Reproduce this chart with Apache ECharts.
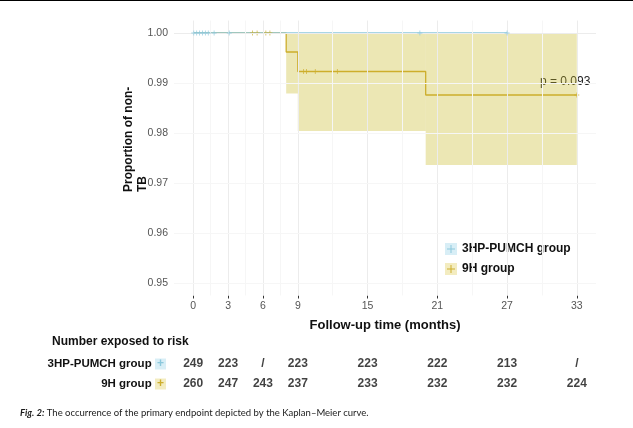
<!DOCTYPE html>
<html><head><meta charset="utf-8">
<script src="https://cdn.jsdelivr.net/npm/echarts@6/dist/echarts.min.js"></script>
<style>html,body{margin:0;padding:0;background:#fff}#c{width:633px;height:428px}</style>
</head><body><div id="c"></div>
<script>
// ---- data ----
const xTicks = [0, 3, 6, 9, 15, 21, 27, 33];
const xMinor = [1.5, 4.5, 7.5, 12, 18, 24, 30];
const yTicks = [0.95, 0.96, 0.97, 0.98, 0.99, 1.00];
const yMinor = [0.955, 0.965, 0.975, 0.985, 0.995];
const groupNames = ['3HP-PUMCH group', '9H group'];
// Kaplan-Meier steps [time, survival]
const kmA = [[0, 1.0], [27, 1.0]];
const kmB = [[0, 1.0], [8, 0.9962], [9, 0.9923], [20, 0.9876], [33, 0.9876]];
// censor marks [time, survival]
const censA = [[0.05,1],[0.3,1],[0.55,1],[0.8,1],[1.05,1],[1.3,1],[1.8,1],[3.1,1],[19.5,1],[27,1]];
const censB = [[5.1,1],[5.5,1],[6.25,1],[6.6,1],[9.5,0.9923],[9.75,0.9923],[10.5,0.9923],[12.4,0.9923],[33,0.9876]];
// confidence band segments for 9H [start, end, lower, upper]
const bandB = [[8, 9, 0.9879, 1.0], [9, 20, 0.9804, 1.0], [20, 33, 0.9736, 1.0]];
const riskA = ['249', '223', '/', '223', '223', '222', '213', '/'];
const riskB = ['260', '247', '243', '237', '233', '232', '232', '224'];
const pText = 'p = 0.093';

// ---- styles ----
const colA = '#8cc8dc', colB = '#cdae2c';
const font = 'Liberation Sans';
const plusPath = 'path://M-0.5,-3H0.5V3H-0.5Z M-3,-0.5H3V0.5H-3Z';
const legendPath = 'path://M-6,-6M6,6M-0.5,-4H0.5V4H-0.5Z M-4,-0.5H4V0.5H-4Z';
const X0 = -1.65, X1 = 34.65, Y0 = 0.9475, Y1 = 1.0025;

const chart = echarts.init(document.getElementById('c'), null, {renderer: 'canvas'});

const gridLines = [];
xTicks.forEach(v => gridLines.push({xAxis: v, lineStyle: {color: '#ececec', width: 1, type: 'solid'}}));
xMinor.forEach(v => gridLines.push({xAxis: v, lineStyle: {color: '#f6f6f6', width: 1, type: 'solid'}}));
yTicks.forEach(v => gridLines.push({yAxis: v, lineStyle: {color: '#ececec', width: 1, type: 'solid'}}));
yMinor.forEach(v => gridLines.push({yAxis: v, lineStyle: {color: '#f6f6f6', width: 1, type: 'solid'}}));

const riskData = [];
riskA.forEach((t, i) => riskData.push([xTicks[i], groupNames[0], t]));
riskB.forEach((t, i) => riskData.push([xTicks[i], groupNames[1], t]));

chart.setOption({
  animation: false,
  textStyle: {fontFamily: font},
  grid: [
    {left: 174, right: 37, top: 20.5, bottom: 132.5},
    {left: 174, right: 37, top: 354, height: 40}
  ],
  xAxis: [
    {type: 'value', gridIndex: 0, min: X0, max: X1,
     splitLine: {show: false},
     axisLine: {show: false},
     axisTick: {show: true, length: 3, customValues: xTicks, lineStyle: {color: '#333'}},
     axisLabel: {customValues: xTicks, color: '#555', fontSize: 10.5, margin: 5, fontFamily: font},
     name: 'Follow-up time (months)', nameLocation: 'middle', nameGap: 23,
     nameTextStyle: {fontWeight: 'bold', fontSize: 13, color: '#111', fontFamily: font}},
    {type: 'value', gridIndex: 1, min: X0, max: X1, show: false}
  ],
  yAxis: [
    {type: 'value', gridIndex: 0, min: Y0, max: Y1,
     splitLine: {show: false},
     axisLine: {show: false},
     axisTick: {show: true, length: 3, customValues: yTicks, lineStyle: {color: '#333'}},
     axisLabel: {customValues: yTicks, color: '#555', fontSize: 10.5, margin: 6, fontFamily: font,
       formatter: v => v.toFixed(2)}},
    {type: 'category', gridIndex: 1, data: groupNames, inverse: true,
     axisLine: {show: false}, axisTick: {show: false}, splitLine: {show: false},
     axisLabel: {margin: 8, fontFamily: font,
       formatter: (v, i) => '{n|' + v + '} ' + (i === 0 ? '{a|+}' : '{b|+}'),
       rich: {
         n: {fontWeight: 'bold', fontSize: 11.5, color: '#111', fontFamily: font},
         a: {backgroundColor: '#d8eef6', color: colA, width: 11, height: 11, align: 'center', fontSize: 12, fontWeight: 'bold', lineHeight: 11},
         b: {backgroundColor: '#f3ecc0', color: colB, width: 11, height: 11, align: 'center', fontSize: 12, fontWeight: 'bold', lineHeight: 11}
       }}}
  ],
  legend: {
    left: 445, top: 243, padding: 0, orient: 'vertical', itemWidth: 12, itemHeight: 12, itemGap: 8,
    textStyle: {fontWeight: 'bold', fontSize: 12, color: '#111', fontFamily: font, padding: [0, 0, 0, 0]},
    data: [
      {name: groupNames[0], icon: legendPath, itemStyle: {color: colA}},
      {name: groupNames[1], icon: legendPath, itemStyle: {color: colB}}
    ],
    selectedMode: false
  },
  title: {text: 'Number exposed to risk', left: 52, top: 336, padding: 0,
    textStyle: {fontWeight: 'bold', fontSize: 12, color: '#111', fontFamily: font}},
  graphic: [
    {type: 'rect', left: 0, top: 0, shape: {width: 633, height: 1}, style: {fill: '#000'}},
    {type: 'rect', left: 445, top: 243, z: -1, shape: {width: 12, height: 12}, style: {fill: '#d8eef6'}},
    {type: 'rect', left: 445, top: 263, z: -1, shape: {width: 12, height: 12}, style: {fill: '#f3ecc0'}},
    {type: 'text', x: 122, y: 192, rotation: Math.PI / 2,
     style: {text: 'Proportion of non-\nTB', font: 'bold 12px "Liberation Sans"', fill: '#111',
       textAlign: 'left', textVerticalAlign: 'top', lineHeight: 14}},
    {type: 'text', x: 540, y: 76,
     style: {text: pText, font: '12px "Liberation Sans"', fill: '#222'}},
    {type: 'text', x: 20, y: 408,
     style: {rich: {
       f: {font: 'italic bold 9.5px Lato', fill: '#1a1a1a'},
       r: {font: '9.5px Lato', fill: '#1a1a1a'}},
       text: '{f|Fig. 2:}{r| The occurrence of the primary endpoint depicted by the Kaplan\u2013Meier curve.}'}}
  ],
  series: [
    {type: 'line', xAxisIndex: 0, yAxisIndex: 0, data: [], z: 0, silent: true,
     markLine: {silent: true, symbol: 'none', label: {show: false}, animation: false, data: gridLines}},
    {type: 'custom', name: '9H band', xAxisIndex: 0, yAxisIndex: 0, z: 1, silent: true,
     data: bandB,
     renderItem: (params, api) => {
       const p0 = api.coord([api.value(0), api.value(3)]);
       const p1 = api.coord([api.value(1), api.value(2)]);
       return {type: 'rect', shape: {x: p0[0], y: p0[1], width: p1[0] - p0[0], height: p1[1] - p0[1]},
         style: {fill: 'rgba(200,185,40,0.35)'}};
     }},
    {type: 'line', name: groupNames[1], xAxisIndex: 0, yAxisIndex: 0, data: kmB, step: 'end',
     showSymbol: false, z: 2, lineStyle: {color: colB, width: 1.3}, itemStyle: {color: colB}},
    {type: 'line', name: groupNames[0], xAxisIndex: 0, yAxisIndex: 0, data: kmA, step: 'end',
     showSymbol: false, z: 3, lineStyle: {color: colA, width: 1.3}, itemStyle: {color: colA}},
    {type: 'scatter', name: '9H censor', xAxisIndex: 0, yAxisIndex: 0, data: censB, symbol: plusPath,
     symbolSize: 5, z: 4, itemStyle: {color: colB}},
    {type: 'scatter', name: '3HP censor', xAxisIndex: 0, yAxisIndex: 0, data: censA, symbol: plusPath,
     symbolSize: 5, z: 5, itemStyle: {color: colA}},
    {type: 'scatter', xAxisIndex: 1, yAxisIndex: 1, data: riskData, symbolSize: 0, silent: true,
     label: {show: true, position: 'inside', formatter: p => p.data[2],
       fontWeight: 'bold', fontSize: 12, color: '#111', fontFamily: font}}
  ]
});
</script></body></html>
